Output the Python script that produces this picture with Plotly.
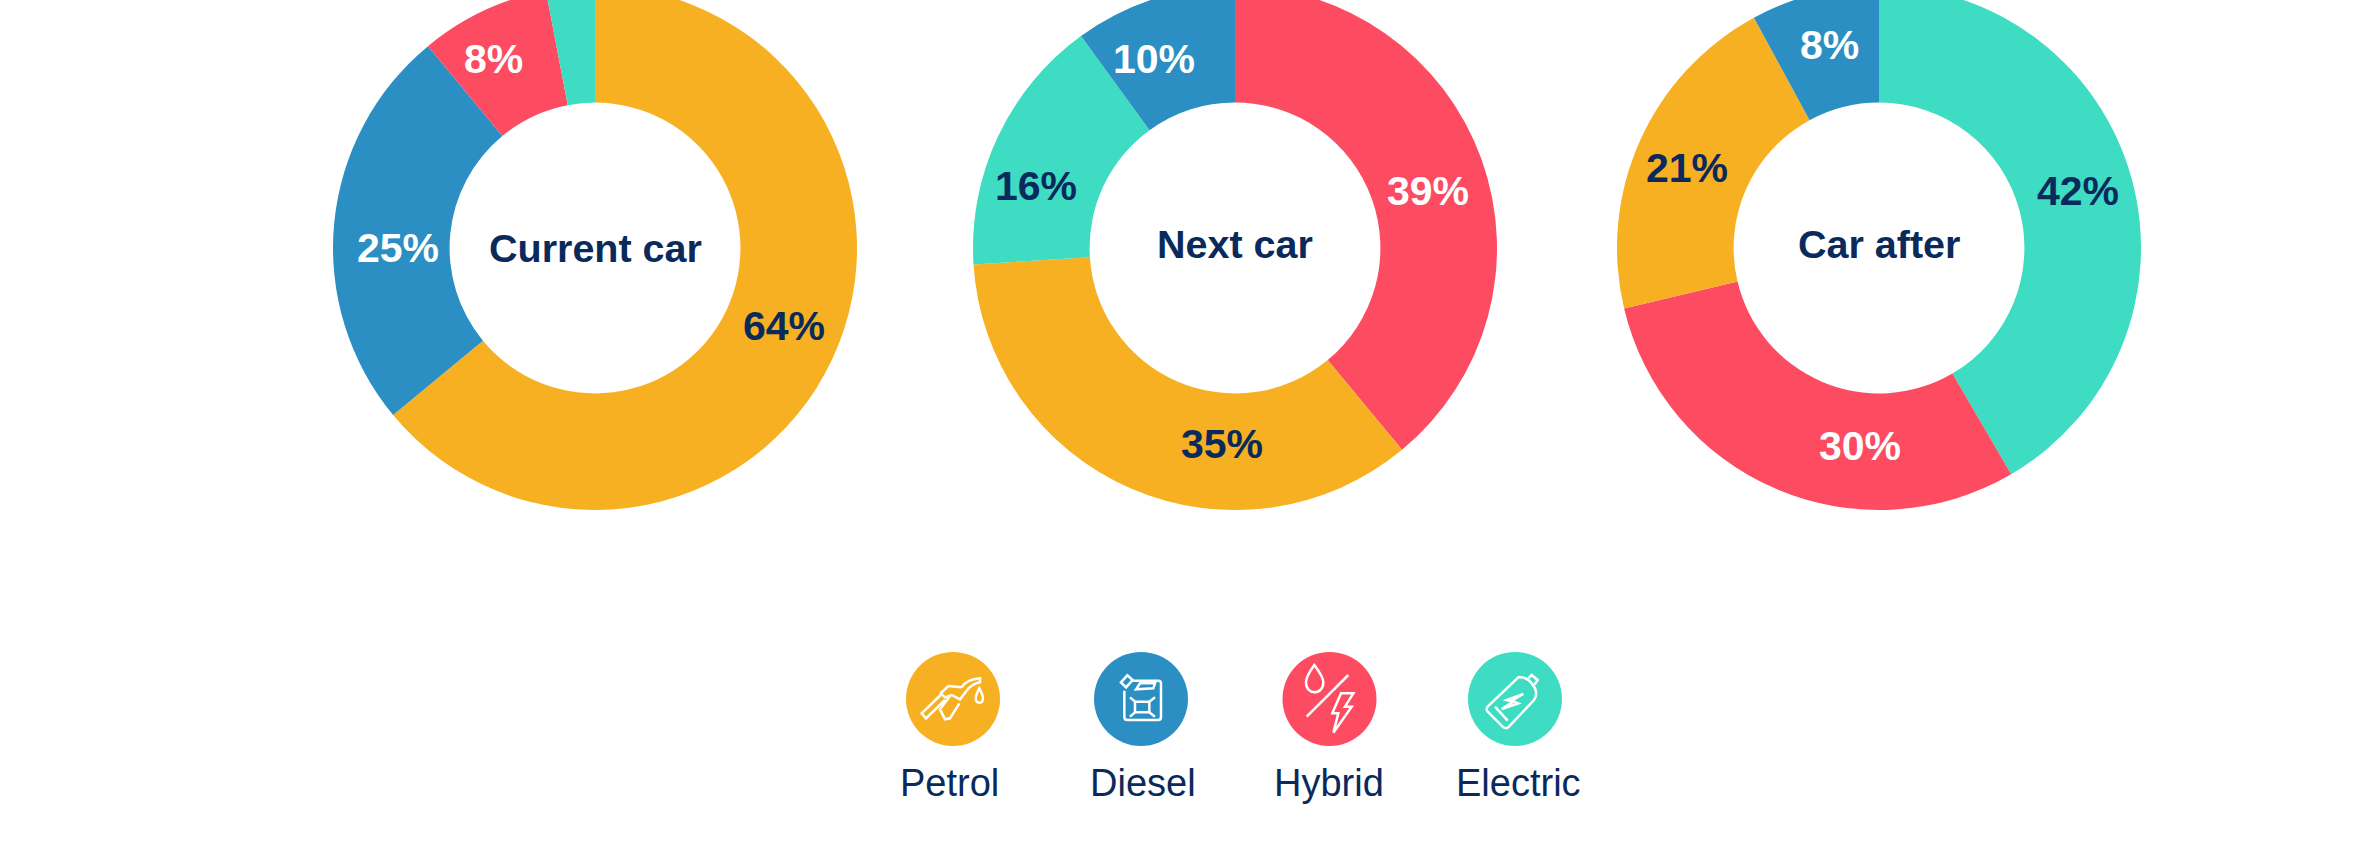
import plotly.graph_objects as go

fuels = ["Petrol", "Diesel", "Hybrid", "Electric"]
fuel_colors = {"Petrol": "#F7B022", "Diesel": "#2B8FC3", "Hybrid": "#FD4B62", "Electric": "#3EDCC2"}
label_colors = {"Petrol": "#0A2A5C", "Diesel": "#FFFFFF", "Hybrid": "#FFFFFF", "Electric": "#0A2A5C"}
NAVY = "#0A2A5C"

current_fuels = ["Petrol", "Diesel", "Hybrid", "Electric"]
current_values = [64, 25, 8, 3]
current_labels = ["64%", "25%", "8%", ""]
next_fuels = ["Hybrid", "Petrol", "Electric", "Diesel"]
next_values = [39, 35, 16, 10]
next_labels = ["39%", "35%", "16%", "10%"]
after_fuels = ["Electric", "Hybrid", "Petrol", "Diesel"]
after_values = [42, 30, 21, 8]
after_labels = ["42%", "30%", "21%", "8%"]

titles = ["Current car", "Next car", "Car after"]
CROP = 14            # the page crops the top of the doughnuts
W, H = 2354, 863 + CROP
CY, R = 248 + CROP, 262
centres = [595, 1235, 1879]
title_y = [248, 244, 244]

# label anchor points on the page, in pixels, in slice order
label_xy = [
    [(784, 326), (398, 248), (493, 59), None],
    [(1428, 191), (1222, 444), (1036, 186), (1154, 59)],
    [(2078, 191), (1860, 446), (1687, 168), (1829, 45)],
]


def fx(x):
    return x / W


def fy(y):
    return 1 - (y + CROP) / H


fig = go.Figure()
series = [(current_fuels, current_values, current_labels),
          (next_fuels, next_values, next_labels),
          (after_fuels, after_values, after_labels)]
annotations = []
for cx, (names, vals, labs), title, spots in zip(centres, series, titles, label_xy):
    fig.add_trace(go.Pie(
        labels=names, values=vals, text=labs, textinfo="none",
        sort=False, direction="clockwise", rotation=0, hole=0.555,
        marker=dict(colors=[fuel_colors[n] for n in names], line=dict(width=0)),
        domain=dict(x=[fx(cx - R), fx(cx + R)], y=[1 - (CY + R) / H, 1 - (CY - R) / H]),
        showlegend=False, hoverinfo="label+text", name=title,
    ))
    for name, lab, spot in zip(names, labs, spots):
        if spot:
            annotations.append(dict(text=f"<b>{lab}</b>", x=fx(spot[0]), y=fy(spot[1]),
                                    xref="paper", yref="paper", showarrow=False,
                                    xanchor="center", yanchor="middle",
                                    font=dict(family="Liberation Sans", size=41, color=label_colors[name])))

for cx, ty, title in zip(centres, title_y, titles):
    annotations.append(dict(text=f"<b>{title}</b>", x=fx(cx), y=fy(ty), xref="paper", yref="paper",
                            showarrow=False, xanchor="center", yanchor="middle",
                            font=dict(family="Liberation Sans", size=39.5, color=NAVY)))

legend_cx = [953, 1141, 1329.5, 1515]
legend_text_cx = [949, 1143, 1329, 1518]
ICON_R = 47
LEG_Y = 699
for tx, name in zip(legend_text_cx, fuels):
    annotations.append(dict(text=name, x=fx(tx), y=fy(783), xref="paper", yref="paper",
                            showarrow=False, xanchor="center", yanchor="middle",
                            font=dict(family="Liberation Sans", size=38, color=NAVY)))

# Icons: drawn in a 300-unit box (3 units per pixel) anchored at each origin
icon_origins = {"Petrol": (900, 650), "Diesel": (1090, 650), "Hybrid": (1280, 650), "Electric": (1465, 650)}
icon_paths = {
    "Petrol": [
        "M 185 112 Q 200 88 240 85 L 240 97 Q 215 102 200 122",
        "M 185 112 L 145 108 L 122 130 L 135 142 L 155 135 L 180 148 L 200 122",
        "M 150 138 L 120 178 L 135 208 L 150 205 L 178 160",
        "M 122 135 L 65 190 L 78 205 L 135 150",
        "M 238 115 C 225 138 222 158 238 158 C 254 158 251 138 238 115 Z",
    ],
    "Diesel": [
        "M 130 92 L 205 92 Q 213 92 213 100 L 213 200 Q 213 210 205 210 L 112 210 Q 103 210 103 200 L 103 122",
        "M 93 97 L 112 76 L 128 90 L 108 112 Z",
        "M 138 118 L 150 100 L 195 100 L 190 115 Z",
        "M 135 155 L 178 155 L 178 187 L 135 187 Z",
        "M 120 142 L 135 155", "M 195 142 L 178 155", "M 120 200 L 135 187", "M 195 200 L 178 187",
    ],
    "Hybrid": [
        "M 103 45 C 85 70 78 85 78 97 C 78 118 92 127 103 127 C 118 127 130 115 130 97 C 130 85 118 65 103 45 Z",
        "M 80 200 L 205 75",
        "M 183 130 L 220 130 L 195 170 L 215 170 L 160 248 L 175 190 L 157 190 Z",
    ],
    "Electric": [
        "M 160 82 L 68 170 Q 62 178 68 185 L 115 232 Q 123 238 132 230 L 207 150 Q 218 135 210 115 L 200 100 Q 185 80 160 82 Z",
        "M 190 85 L 200 75 L 218 90 L 208 104",
        "M 90 170 L 128 212",
        "M 175 132 L 125 150 L 145 155 L 110 177 L 160 160 L 140 152 Z",
    ],
}


def to_paper(path, ox, oy):
    out, is_x = [], True
    for tok in path.split():
        if tok.isalpha():
            out.append(tok)
            is_x = True
        else:
            v = float(tok) / 3
            out.append(f"{fx(ox + v):.6f}" if is_x else f"{fy(oy + v):.6f}")
            is_x = not is_x
    return " ".join(out)


shapes = []
for name, cx in zip(fuels, legend_cx):
    shapes.append(dict(type="circle", xref="paper", yref="paper",
                       x0=fx(cx - ICON_R), x1=fx(cx + ICON_R), y0=fy(LEG_Y + ICON_R), y1=fy(LEG_Y - ICON_R),
                       fillcolor=fuel_colors[name], line=dict(width=0)))
    ox, oy = icon_origins[name]
    for p in icon_paths[name]:
        shapes.append(dict(type="path", xref="paper", yref="paper", path=to_paper(p, ox, oy),
                           line=dict(color="white", width=2.5), fillcolor="rgba(0,0,0,0)"))

fig.update_layout(width=W, height=H, margin=dict(l=0, r=0, t=0, b=0), autosize=False,
                  paper_bgcolor="white", plot_bgcolor="white",
                  annotations=annotations, shapes=shapes)

post = ("document.documentElement.style.overflow='hidden';"
        "document.body.style.margin='0';document.body.style.overflow='hidden';"
        f"document.getElementById('{{plot_id}}').style.marginTop='-{CROP}px';")
fig.write_html("out.html", post_script=post, default_width=f"{W}px", default_height=f"{H}px",
               config={"displayModeBar": False})
